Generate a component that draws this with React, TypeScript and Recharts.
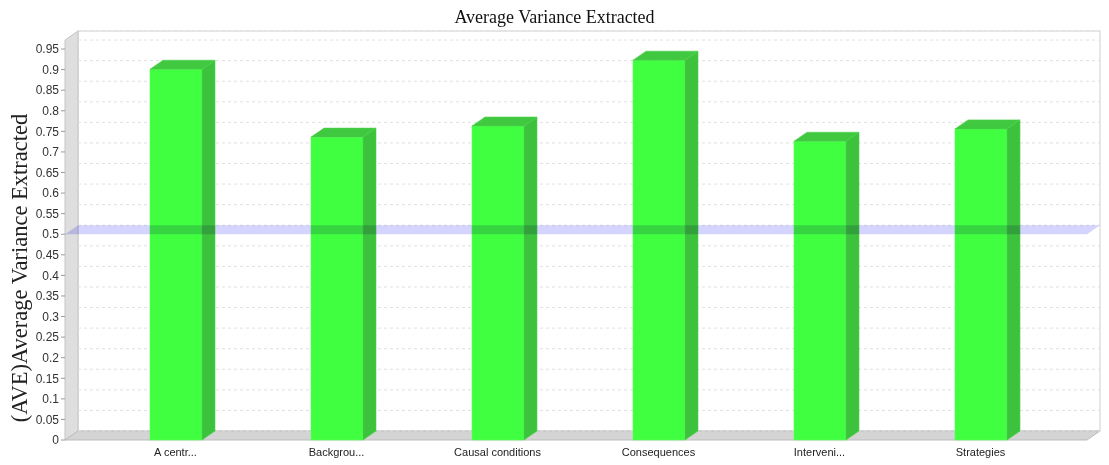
import React from 'react';
import { BarChart, Bar, XAxis, YAxis, CartesianGrid, ReferenceLine } from 'recharts';

const categories = ['A centr...', 'Backgrou...', 'Causal conditions', 'Consequences', 'Interveni...', 'Strategies'];
const aveValues = [0.901, 0.736, 0.763, 0.923, 0.726, 0.756];
const yTicks = [0, 0.05, 0.1, 0.15, 0.2, 0.25, 0.3, 0.35, 0.4, 0.45, 0.5, 0.55, 0.6, 0.65, 0.7, 0.75, 0.8, 0.85, 0.9, 0.95];
const threshold = 0.5;

const data = categories.map((name, i) => ({ name, ave: aveValues[i] }));

const W = 1109;
const H = 465;
const LEFT = 65;
const RIGHT = 1087;
const TOP = 40;
const BOTTOM = 440;
const DX = 13;
const DY = 9;

function Bar3D(props: any) {
  const { x, y, width, height } = props;
  if (height == null || height <= 0) return null;
  const top = `${x},${y} ${x + DX},${y - DY} ${x + width + DX},${y - DY} ${x + width},${y}`;
  const side = `${x + width},${y} ${x + width + DX},${y - DY} ${x + width + DX},${y + height - DY} ${x + width},${y + height}`;
  return (
    <g>
      <rect x={x} y={y} width={width} height={height} fill="#40ff40" stroke="#5cff5c" strokeWidth={0.6} />
      <polygon points={top} fill="#40c840" stroke="#4cd44c" strokeWidth={0.6} />
      <polygon points={side} fill="#3cc23c" stroke="#4cd44c" strokeWidth={0.6} />
    </g>
  );
}

function Band(props: any) {
  const { x1, y1, x2 } = props;
  if (x1 == null) return null;
  const pts = `${x1},${y1} ${x1 + DX},${y1 - DY} ${x2 + DX},${y1 - DY} ${x2},${y1}`;
  return <polygon points={pts} fill="#d4d4ff" style={{ mixBlendMode: 'multiply' }} />;
}

export default function App() {
  return (
    <div style={{ position: 'absolute', left: 0, top: 0, width: W, height: H, background: '#fff', overflow: 'hidden' }}>
      <style>{`.recharts-cartesian-grid { transform: translate(${DX}px, ${-DY}px); }`}</style>
      <svg width={W} height={H} style={{ position: 'absolute', left: 0, top: 0 }}>
        <rect x={LEFT + DX} y={TOP - DY} width={RIGHT - LEFT} height={BOTTOM - TOP} fill="#fff" stroke="#cfcfcf" />
        <polygon
          points={`${LEFT},${TOP} ${LEFT + DX},${TOP - DY} ${LEFT + DX},${BOTTOM - DY} ${LEFT},${BOTTOM}`}
          fill="#dedede"
          stroke="#c4c4c4"
        />
        <polygon
          points={`${LEFT},${BOTTOM} ${LEFT + DX},${BOTTOM - DY} ${RIGHT + DX},${BOTTOM - DY} ${RIGHT},${BOTTOM}`}
          fill="#d4d4d4"
          stroke="#bdbdbd"
        />
        <text x={W / 2} y={23} textAnchor="middle" fontFamily="'Liberation Serif', serif" fontSize={18} fill="#111">
          Average Variance Extracted
        </text>
        <text
          x={0}
          y={0}
          transform={`translate(27, 268) rotate(-90)`}
          textAnchor="middle"
          fontFamily="'Liberation Serif', serif"
          fontSize={22.5}
          fill="#222"
        >
          (AVE)Average Variance Extracted
        </text>
      </svg>
      <div style={{ position: 'absolute', left: 0, top: 0 }}>
        <BarChart width={W} height={H} data={data} margin={{ top: TOP, right: W - RIGHT, bottom: 0, left: 0 }}>
          <CartesianGrid horizontal vertical={false} stroke="#e0e0e0" strokeDasharray="3 3" />
          <YAxis
            width={LEFT}
            domain={[0, 0.972]}
            ticks={yTicks}
            interval={0}
            axisLine={false}
            tickSize={4}
            tickMargin={2}
            tickLine={{ stroke: '#999' }}
            tick={{ fontSize: 12, fill: '#333', fontFamily: "'Liberation Sans', Arial, sans-serif" }}
            tickFormatter={(v: number) => String(Number(v.toFixed(2)))}
          />
          <XAxis
            dataKey="name"
            height={H - BOTTOM}
            padding={{ left: 30, right: 26 }}
            axisLine={false}
            tickLine={false}
            tickSize={0}
            tickMargin={8}
            interval={0}
            tick={{ fontSize: 11, fill: '#222', fontFamily: "'Liberation Sans', Arial, sans-serif" }}
          />
          <Bar dataKey="ave" barSize={52} shape={Bar3D} isAnimationActive={false} />
          <ReferenceLine y={threshold} shape={Band} />
        </BarChart>
      </div>
    </div>
  );
}
